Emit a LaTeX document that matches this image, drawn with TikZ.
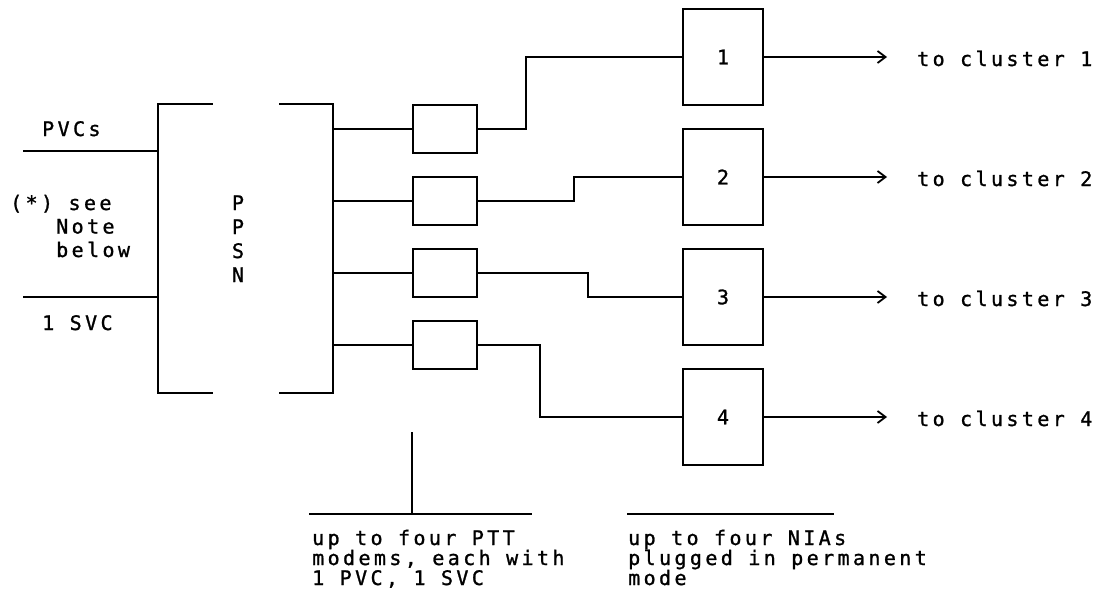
\documentclass[tikz,border=0pt]{standalone}
\usepackage{fontspec}
\newfontfamily\typew[LetterSpace=17,FakeBold=1.2]{DejaVu Sans Mono}
\usetikzlibrary{arrows.meta,calc}
\begin{document}
\begin{tikzpicture}[x=1pt,y=-1pt,
  line/.style={line width=2pt},
  txt/.style={font=\typew\fontsize{20}{20}\selectfont, inner sep=0pt, anchor=base west},
  modem/.style={draw, line width=2pt, minimum width=64pt, minimum height=48pt, inner sep=0pt},
  nia/.style={draw, line width=2pt, minimum width=80pt, minimum height=96pt, inner sep=0pt},
  nianum/.style={font=\typew\fontsize{20}{20}\selectfont, inner sep=0pt},
  barb/.style={-{Straight Barb[length=8pt,width=12pt,line width=1.8pt]}}
]
\useasboundingbox (0,0) rectangle (1107,597);

% PPSN
\node[minimum width=175pt, minimum height=289pt, inner sep=0pt] (ppsn) at (245.5,248.5) {};
\draw[line] ($(ppsn.north west)+(55,0)$) -- (ppsn.north west) -- (ppsn.south west) -- ++(55,0);
\draw[line] ($(ppsn.north east)+(-54,0)$) -- (ppsn.north east) -- (ppsn.south east) -- ++(-54,0);

% left inputs
\coordinate (pvcend) at (23,151);
\coordinate (svcend) at (23,297);
\draw[line] (pvcend) -- (pvcend -| ppsn.west);
\draw[line] (svcend) -- (svcend -| ppsn.west);

% modems
\node[modem] (m1) at (445,129) {};
\node[modem] (m2) at (445,201) {};
\node[modem] (m3) at (445,273) {};
\node[modem] (m4) at (445,345) {};
\foreach \i in {1,...,4} {
  \draw[line] (ppsn.east |- m\i.west) -- (m\i.west);
}

% NIAs
\node[nia] (n1) at (723,57) {};
\node[nia] (n2) at (723,177) {};
\node[nia] (n3) at (723,297) {};
\node[nia] (n4) at (723,417) {};

\draw[line] (m1.east) -- ++(48,0) |- (n1.west);
\draw[line] (m2.east) -- ++(96,0) |- (n2.west);
\draw[line] (m3.east) -- ++(110,0) |- (n3.west);
\draw[line] (m4.east) -- ++(62,0) |- (n4.west);

\foreach \i in {1,...,4} {
  \coordinate (c\i) at (887, 0 |- n\i.east);
  \draw[line, barb] (n\i.east) -- (c\i);
}

% bottom annotations
\coordinate (vt) at (412,432);
\coordinate (vb) at (412,514);
\coordinate (l1) at (309,514);
\coordinate (l2) at (532,514);
\coordinate (r1) at (627,514);
\coordinate (r2) at (834,514);
\draw[line] (vt) -- (vb);
\draw[line] (l1) -- (l2);
\draw[line] (r1) -- (r2);

% texts (drawn last)
\node[txt, anchor=base, align=center, font=\typew\fontsize{20}{24}\selectfont] (ppsnlbl) at (238,282) {P\\P\\S\\N};
\node[txt] (pvcs) at (42,136) {PVCs};
\node[txt] (note1) at (10,210) {(*) see};
\node[txt, align=left, font=\typew\fontsize{20}{23.5}\selectfont] (note2) at (56,257) {Note\\below};
\node[txt] (svc) at (42,330) {1 SVC};
\foreach \i in {1,...,4} {
  \node[nianum] (l\i) at (n\i.center) {\i};
  \node[txt] (t\i) at ($(c\i)+(30,9)$) {to cluster \i};
}
\node[txt, align=left] (ptt) at (312,585) {up to four PTT\\modems, each with\\1 PVC, 1 SVC};
\node[txt, align=left] (nias) at (628,585) {up to four NIAs\\plugged in permanent\\mode};
\end{tikzpicture}
\end{document}
